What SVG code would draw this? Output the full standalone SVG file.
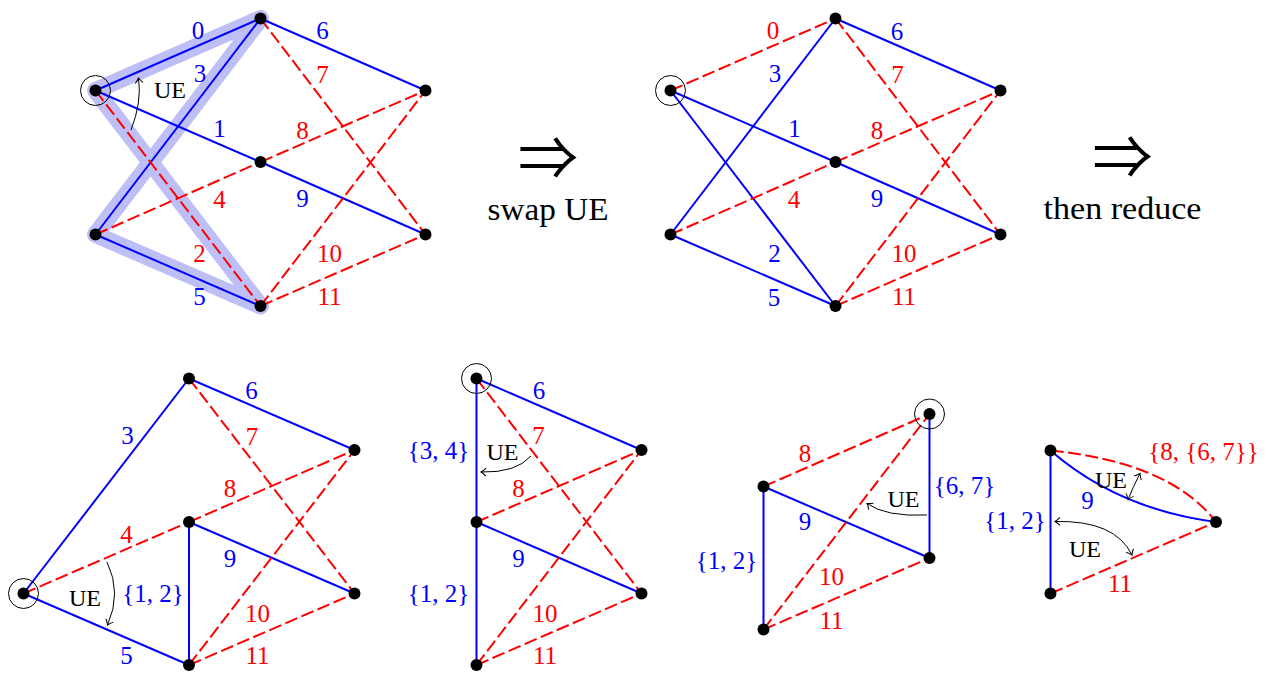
<svg xmlns="http://www.w3.org/2000/svg" width="1271" height="675" viewBox="0 0 1271 675">
<style>
.b{stroke:#0000ff;stroke-width:2;fill:none}
.r{stroke:#ff0000;stroke-width:2;fill:none;stroke-dasharray:13 4.5}
.hl{stroke:#bfbff7;stroke-width:17;fill:none;stroke-linejoin:round;stroke-linecap:round}
.n{fill:#000}
.ring{fill:none;stroke:#000;stroke-width:1}
.arc{fill:none;stroke:#000;stroke-width:1}
text{font-family:"Liberation Serif","DejaVu Serif",serif;text-anchor:middle}
.lb{fill:#0000ff;font-size:25px}
.lr{fill:#ff0000;font-size:25px}
.ue{fill:#000;font-size:24px}
.big{fill:#000;font-size:31px}
.sym{fill:#000;font-family:"Noto Sans CJK JP","Noto Sans CJK SC","DejaVu Sans",sans-serif;font-size:60px}
</style>
<defs>
<marker id="ah" viewBox="-6 -5 8 10" refX="0" refY="0" markerWidth="8" markerHeight="10" markerUnits="userSpaceOnUse" orient="auto-start-reverse">
<path d="M-5,-4 Q-2,-1 0,0 Q-2,1 -5,4" fill="none" stroke="#000" stroke-width="1"/>
</marker>
</defs>

<!-- highlight -->
<path class="hl" d="M95.5,90.5 L260.5,18.5 L95.5,234.5 L260.5,306 Z"/>

<g id="connectors">
<!-- top-left -->
<line class="b" x1="95.5" y1="90.5" x2="260.5" y2="18.5"/>
<line class="b" x1="95.5" y1="234.5" x2="260.5" y2="18.5"/>
<line class="b" x1="95.5" y1="90.5" x2="260.5" y2="162"/>
<line class="r" x1="95.5" y1="90.5" x2="260.5" y2="306"/>
<line class="r" x1="95.5" y1="234.5" x2="260.5" y2="162"/>
<line class="b" x1="95.5" y1="234.5" x2="260.5" y2="306"/>
<line class="b" x1="260.5" y1="18.5" x2="425.5" y2="90.5"/>
<line class="r" x1="260.5" y1="18.5" x2="425.5" y2="234.5"/>
<line class="r" x1="260.5" y1="162" x2="425.5" y2="90.5"/>
<line class="b" x1="260.5" y1="162" x2="425.5" y2="234.5"/>
<line class="r" x1="260.5" y1="306" x2="425.5" y2="90.5"/>
<line class="r" x1="260.5" y1="306" x2="425.5" y2="234.5"/>
<path class="arc" d="M131,130 Q142,102 138.5,78" marker-end="url(#ah)"/>

<!-- top-middle -->
<line class="r" x1="670.5" y1="90.5" x2="835.5" y2="18.5"/>
<line class="b" x1="670.5" y1="234.5" x2="835.5" y2="18.5"/>
<line class="b" x1="670.5" y1="90.5" x2="835.5" y2="162"/>
<line class="b" x1="670.5" y1="90.5" x2="835.5" y2="306"/>
<line class="r" x1="670.5" y1="234.5" x2="835.5" y2="162"/>
<line class="b" x1="670.5" y1="234.5" x2="835.5" y2="306"/>
<line class="b" x1="835.5" y1="18.5" x2="1000.5" y2="90.5"/>
<line class="r" x1="835.5" y1="18.5" x2="1000.5" y2="234.5"/>
<line class="r" x1="835.5" y1="162" x2="1000.5" y2="90.5"/>
<line class="b" x1="835.5" y1="162" x2="1000.5" y2="234.5"/>
<line class="r" x1="835.5" y1="306" x2="1000.5" y2="90.5"/>
<line class="r" x1="835.5" y1="306" x2="1000.5" y2="234.5"/>

<!-- bottom 1 -->
<line class="b" x1="23.5" y1="593.5" x2="189" y2="378.5"/>
<line class="b" x1="189" y1="378.5" x2="354.5" y2="450"/>
<line class="r" x1="189" y1="378.5" x2="354.5" y2="593.5"/>
<line class="r" x1="189" y1="522" x2="354.5" y2="450"/>
<line class="r" x1="23.5" y1="593.5" x2="189" y2="522"/>
<line class="b" x1="189" y1="522" x2="354.5" y2="593.5"/>
<line class="b" x1="189" y1="522" x2="189" y2="665"/>
<line class="b" x1="23.5" y1="593.5" x2="189" y2="665"/>
<line class="r" x1="189" y1="665" x2="354.5" y2="450"/>
<line class="r" x1="189" y1="665" x2="354.5" y2="593.5"/>
<path class="arc" d="M107,562 Q122,593 107.5,625" marker-end="url(#ah)"/>

<!-- bottom 2 -->
<line class="b" x1="476.5" y1="378.5" x2="641.5" y2="450"/>
<line class="b" x1="476.5" y1="378.5" x2="476.5" y2="522"/>
<line class="r" x1="476.5" y1="378.5" x2="641.5" y2="593.5"/>
<line class="r" x1="476.5" y1="522" x2="641.5" y2="450"/>
<line class="b" x1="476.5" y1="522" x2="641.5" y2="593.5"/>
<line class="b" x1="476.5" y1="522" x2="476.5" y2="665"/>
<line class="r" x1="476.5" y1="665" x2="641.5" y2="450"/>
<line class="r" x1="476.5" y1="665" x2="641.5" y2="593.5"/>
<path class="arc" d="M531,456 Q516,473 481,472" marker-end="url(#ah)"/>

<!-- bottom 3 -->
<line class="r" x1="763.5" y1="486.5" x2="929.5" y2="414"/>
<line class="b" x1="929.5" y1="414" x2="929.5" y2="558"/>
<line class="b" x1="763.5" y1="486.5" x2="929.5" y2="558"/>
<line class="b" x1="763.5" y1="486.5" x2="763.5" y2="629.5"/>
<line class="r" x1="763.5" y1="629.5" x2="929.5" y2="414"/>
<line class="r" x1="763.5" y1="629.5" x2="929.5" y2="558"/>
<path class="arc" d="M927,515 Q886,517 867,503.5" marker-end="url(#ah)"/>

<!-- bottom 4 -->
<path class="r" d="M1050.5,450.5 Q1170.5,462.5 1216,522"/>
<path class="b" d="M1050.5,450.5 Q1117.5,509 1216,522"/>
<line class="b" x1="1050.5" y1="450.5" x2="1050.5" y2="593.5"/>
<line class="r" x1="1050.5" y1="593.5" x2="1216" y2="522"/>
<path class="arc" d="M1140,473.5 Q1133,487 1128,499.5" marker-start="url(#ah)" marker-end="url(#ah)"/>
<path class="arc" d="M1055,521.5 Q1115,520 1132,555" marker-start="url(#ah)" marker-end="url(#ah)"/>
</g>

<g id="labels">
<text class="lb" x="198" y="38.5">0</text>
<text class="lb" x="200" y="82">3</text>
<text class="lb" x="219.5" y="137">1</text>
<text class="lr" x="219.5" y="208">4</text>
<text class="lr" x="199.5" y="262">2</text>
<text class="lb" x="199.5" y="305">5</text>
<text class="lb" x="322.5" y="39">6</text>
<text class="lr" x="322.5" y="82.5">7</text>
<text class="lr" x="302.5" y="138.5">8</text>
<text class="lb" x="302.5" y="207">9</text>
<text class="lr" x="329.5" y="262">10</text>
<text class="lr" x="329.5" y="304.5">11</text>
<text class="ue" x="170" y="97.5">UE</text>

<text class="lr" x="773" y="39">0</text>
<text class="lb" x="775" y="82">3</text>
<text class="lb" x="794.5" y="137">1</text>
<text class="lr" x="794" y="208">4</text>
<text class="lb" x="774.5" y="262">2</text>
<text class="lb" x="774" y="305.5">5</text>
<text class="lb" x="897" y="39.5">6</text>
<text class="lr" x="897.5" y="82.5">7</text>
<text class="lr" x="877" y="138.5">8</text>
<text class="lb" x="877" y="207">9</text>
<text class="lr" x="904" y="262">10</text>
<text class="lr" x="904" y="304.5">11</text>

<text class="sym" x="548" y="180">⇒</text>
<text class="big" x="548" y="220" textLength="121" lengthAdjust="spacingAndGlyphs">swap UE</text>
<text class="sym" x="1122.5" y="179">⇒</text>
<text class="big" x="1122.5" y="219" textLength="158" lengthAdjust="spacingAndGlyphs">then reduce</text>

<text class="lb" x="127.5" y="443.5">3</text>
<text class="lb" x="251.5" y="398.5">6</text>
<text class="lr" x="252" y="444.5">7</text>
<text class="lr" x="230" y="496.5">8</text>
<text class="lr" x="126.5" y="542.5">4</text>
<text class="lb" x="230" y="566.5">9</text>
<text class="lb" x="153" y="602">{1, 2}</text>
<text class="lb" x="126.5" y="663.5">5</text>
<text class="lr" x="257.5" y="621.5">10</text>
<text class="lr" x="257.5" y="663.5">11</text>
<text class="ue" x="85" y="605.5">UE</text>

<text class="lb" x="539" y="398.5">6</text>
<text class="lb" x="438.5" y="458.5">{3, 4}</text>
<text class="lr" x="538.5" y="443.5">7</text>
<text class="ue" x="502.5" y="460">UE</text>
<text class="lr" x="518.5" y="496.5">8</text>
<text class="lb" x="518.5" y="566.5">9</text>
<text class="lb" x="438.5" y="602">{1, 2}</text>
<text class="lr" x="545" y="621.5">10</text>
<text class="lr" x="545" y="663.5">11</text>

<text class="lr" x="805" y="461.5">8</text>
<text class="lb" x="964.5" y="494">{6, 7}</text>
<text class="lb" x="805" y="530">9</text>
<text class="lb" x="726.5" y="569">{1, 2}</text>
<text class="lr" x="831.5" y="585">10</text>
<text class="lr" x="831.5" y="628.5">11</text>
<text class="ue" x="903.5" y="506.5">UE</text>

<text class="lr" x="1203.5" y="460">{8, {6, 7}}</text>
<text class="lb" x="1087.5" y="508.5">9</text>
<text class="lb" x="1015" y="528.5">{1, 2}</text>
<text class="lr" x="1120" y="591.5">11</text>
<text class="ue" x="1111" y="487.5">UE</text>
<text class="ue" x="1085" y="556.5">UE</text>
</g>

<g id="n-tl-A"><circle class="ring" cx="95.5" cy="90.5" r="15"/><circle class="n" cx="95.5" cy="90.5" r="6"/></g>
<g id="n-tl-B"><circle class="n" cx="260.5" cy="18.5" r="6"/></g>
<g id="n-tl-C"><circle class="n" cx="260.5" cy="162" r="6"/></g>
<g id="n-tl-D"><circle class="n" cx="95.5" cy="234.5" r="6"/></g>
<g id="n-tl-E"><circle class="n" cx="260.5" cy="306" r="6"/></g>
<g id="n-tl-F"><circle class="n" cx="425.5" cy="90.5" r="6"/></g>
<g id="n-tl-G"><circle class="n" cx="425.5" cy="234.5" r="6"/></g>

<g id="n-tm-A"><circle class="ring" cx="670.5" cy="90.5" r="15"/><circle class="n" cx="670.5" cy="90.5" r="6"/></g>
<g id="n-tm-B"><circle class="n" cx="835.5" cy="18.5" r="6"/></g>
<g id="n-tm-C"><circle class="n" cx="835.5" cy="162" r="6"/></g>
<g id="n-tm-D"><circle class="n" cx="670.5" cy="234.5" r="6"/></g>
<g id="n-tm-E"><circle class="n" cx="835.5" cy="306" r="6"/></g>
<g id="n-tm-F"><circle class="n" cx="1000.5" cy="90.5" r="6"/></g>
<g id="n-tm-G"><circle class="n" cx="1000.5" cy="234.5" r="6"/></g>

<g id="n-b1-P"><circle class="ring" cx="23.5" cy="593.5" r="15"/><circle class="n" cx="23.5" cy="593.5" r="6"/></g>
<g id="n-b1-T"><circle class="n" cx="189" cy="378.5" r="6"/></g>
<g id="n-b1-RT"><circle class="n" cx="354.5" cy="450" r="6"/></g>
<g id="n-b1-M"><circle class="n" cx="189" cy="522" r="6"/></g>
<g id="n-b1-RB"><circle class="n" cx="354.5" cy="593.5" r="6"/></g>
<g id="n-b1-B"><circle class="n" cx="189" cy="665" r="6"/></g>

<g id="n-b2-T"><circle class="ring" cx="476.5" cy="378.5" r="15"/><circle class="n" cx="476.5" cy="378.5" r="6"/></g>
<g id="n-b2-RT"><circle class="n" cx="641.5" cy="450" r="6"/></g>
<g id="n-b2-M"><circle class="n" cx="476.5" cy="522" r="6"/></g>
<g id="n-b2-RB"><circle class="n" cx="641.5" cy="593.5" r="6"/></g>
<g id="n-b2-B"><circle class="n" cx="476.5" cy="665" r="6"/></g>

<g id="n-b3-TR"><circle class="ring" cx="929.5" cy="414" r="15"/><circle class="n" cx="929.5" cy="414" r="6"/></g>
<g id="n-b3-LM"><circle class="n" cx="763.5" cy="486.5" r="6"/></g>
<g id="n-b3-RB"><circle class="n" cx="929.5" cy="558" r="6"/></g>
<g id="n-b3-BL"><circle class="n" cx="763.5" cy="629.5" r="6"/></g>

<g id="n-b4-TL"><circle class="n" cx="1050.5" cy="450.5" r="6"/></g>
<g id="n-b4-R"><circle class="n" cx="1216" cy="522" r="6"/></g>
<g id="n-b4-BL"><circle class="n" cx="1050.5" cy="593.5" r="6"/></g>
</svg>
